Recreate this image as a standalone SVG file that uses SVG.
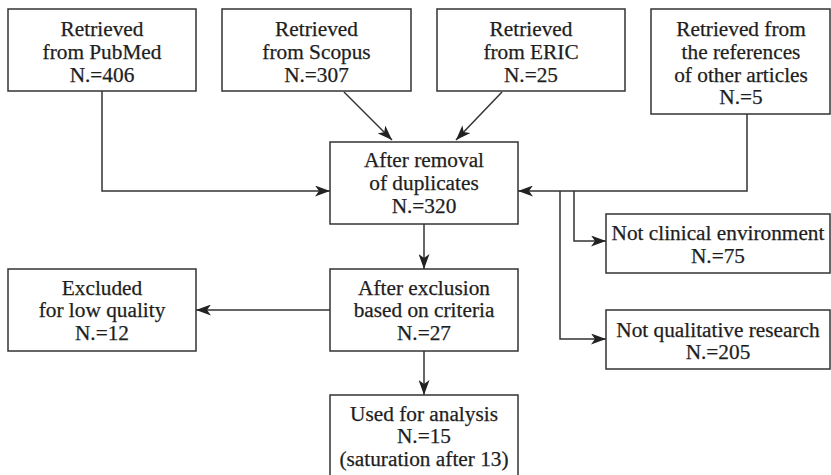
<svg xmlns="http://www.w3.org/2000/svg" width="831" height="475" viewBox="0 0 831 475">
<style>
.box{fill:#fff;stroke:#333;stroke-width:1.5}
.t{font-family:'Liberation Serif','Times New Roman','DejaVu Serif',serif;font-size:21.3px;fill:#1e1e1e;stroke:#1e1e1e;stroke-width:0.25;text-anchor:middle}
.c{fill:none;stroke:#333;stroke-width:1.5}
</style>
<defs>
<marker id="ah" viewBox="0 0 15 11" refX="15" refY="5.5" markerWidth="15" markerHeight="11" markerUnits="userSpaceOnUse" orient="auto">
<path d="M0,0 L15,5.5 L0,11 L4,5.5 Z" fill="#222"/>
</marker>
</defs>
<rect width="831" height="475" fill="#fff"/>
<g id="connectors">
<path class="c" d="M102,91 V191 H330" marker-end="url(#ah)"/>
<path class="c" d="M344,92 L392,140" marker-end="url(#ah)"/>
<path class="c" d="M502,92 L456,140" marker-end="url(#ah)"/>
<path class="c" d="M747,114 V191 H518" marker-end="url(#ah)"/>
<path class="c" d="M574,191 V241 H606" marker-end="url(#ah)"/>
<path class="c" d="M560,191 V339 H606" marker-end="url(#ah)"/>
<path class="c" d="M424,224 V269" marker-end="url(#ah)"/>
<path class="c" d="M330,310 H196" marker-end="url(#ah)"/>
<path class="c" d="M424,351 V395" marker-end="url(#ah)"/>
</g>
<g id="pubmed">
<rect class="box" x="8" y="9" width="188" height="82"/>
<text class="t" x="102" y="36">Retrieved</text>
<text class="t" x="102" y="59">from PubMed</text>
<text class="t" x="102" y="82">N.=406</text>
</g>
<g id="scopus">
<rect class="box" x="222" y="9" width="189" height="82"/>
<text class="t" x="316.5" y="36">Retrieved</text>
<text class="t" x="316.5" y="59">from Scopus</text>
<text class="t" x="316.5" y="82">N.=307</text>
</g>
<g id="eric">
<rect class="box" x="437" y="9" width="188" height="82"/>
<text class="t" x="531" y="36">Retrieved</text>
<text class="t" x="531" y="59">from ERIC</text>
<text class="t" x="531" y="82">N.=25</text>
</g>
<g id="others">
<rect class="box" x="651" y="9" width="179" height="105"/>
<text class="t" x="741" y="36">Retrieved from</text>
<text class="t" x="741" y="59">the references</text>
<text class="t" x="741" y="82">of other articles</text>
<text class="t" x="741" y="104">N.=5</text>
</g>
<g id="duplicates">
<rect class="box" x="330" y="142" width="188" height="82"/>
<text class="t" x="424" y="167">After removal</text>
<text class="t" x="424" y="190">of duplicates</text>
<text class="t" x="424" y="213">N.=320</text>
</g>
<g id="notclinical">
<rect class="box" x="606" y="214" width="224" height="59"/>
<text class="t" x="718" y="240">Not clinical environment</text>
<text class="t" x="718" y="263">N.=75</text>
</g>
<g id="notqualitative">
<rect class="box" x="606" y="310" width="224" height="59"/>
<text class="t" x="718" y="337">Not qualitative research</text>
<text class="t" x="718" y="359">N.=205</text>
</g>
<g id="exclusion">
<rect class="box" x="330" y="269" width="188" height="82"/>
<text class="t" x="424" y="295">After exclusion</text>
<text class="t" x="424" y="317">based on criteria</text>
<text class="t" x="424" y="340">N.=27</text>
</g>
<g id="excluded">
<rect class="box" x="8" y="269" width="188" height="82"/>
<text class="t" x="102" y="295">Excluded</text>
<text class="t" x="102" y="317">for low quality</text>
<text class="t" x="102" y="340">N.=12</text>
</g>
<g id="used">
<rect class="box" x="330" y="395" width="188" height="85"/>
<text class="t" x="424" y="421">Used for analysis</text>
<text class="t" x="424" y="443">N.=15</text>
<text class="t" x="424" y="466">(saturation after 13)</text>
</g>
</svg>
